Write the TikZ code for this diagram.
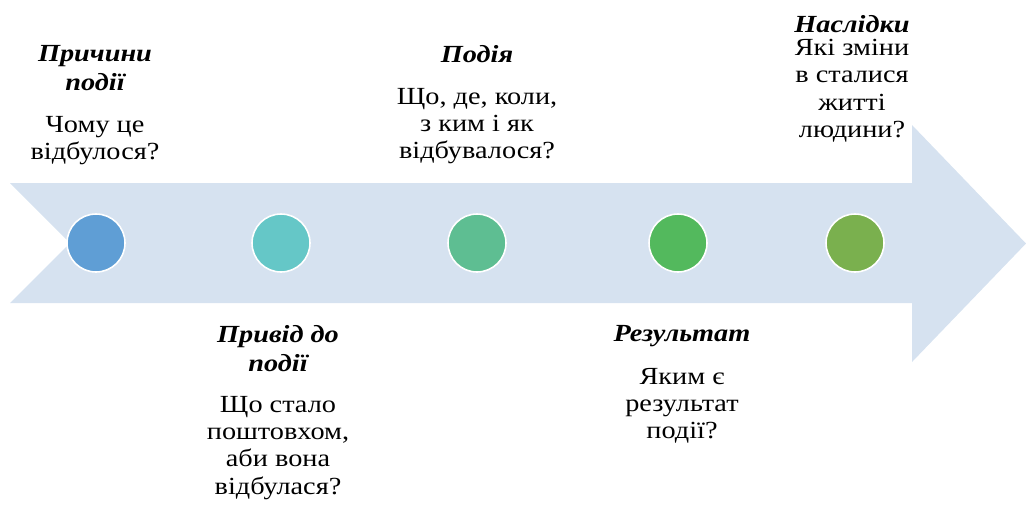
\documentclass[tikz,border=0pt]{standalone}
\usepackage{fontspec}
\setmainfont[FakeStretch=1.15]{Liberation Serif}
\usepackage{xcolor}
\usetikzlibrary{positioning}

\definecolor{bandfill}{HTML}{D6E2F0}
\definecolor{dotA}{HTML}{5F9ED5}
\definecolor{dotB}{HTML}{65C7C7}
\definecolor{dotC}{HTML}{5EBE92}
\definecolor{dotD}{HTML}{53B95D}
\definecolor{dotE}{HTML}{7AB04E}

\begin{document}
\begin{tikzpicture}[x=0.02cm,y=-0.02cm,
  dot/.style={circle,draw=white,line width=0.9pt,minimum size=1.16cm,inner sep=0pt},
  ttl/.style={anchor=north,align=center,inner sep=0pt,font=\bfseries\itshape\fontsize{14}{16.5}\selectfont},
  txt/.style={anchor=north,align=center,inner sep=0pt,font=\fontsize{14}{15.5}\selectfont}]
\useasboundingbox (0,0) rectangle (1026,504);

% timeline band
\fill[bandfill] (10,183) -- (912,183) -- (912,125) -- (1026,243.5) -- (912,362)
  -- (912,303) -- (10,303) -- (70,243) -- cycle;

\node[dot,fill=dotA] (d1) at (96,243) {};
\node[dot,fill=dotB] (d2) at (281,243) {};
\node[dot,fill=dotC] (d3) at (477,243) {};
\node[dot,fill=dotD] (d4) at (678,243) {};
\node[dot,fill=dotE] (d5) at (855,243) {};

% texts above
\node[ttl] (cause) at (95,45) {Причини\\події};
\node[txt] (causeq) at (95,116) {Чому це\\відбулося?};
\node[ttl] (event) at (477,45) {Подія};
\node[txt] (eventq) at (477,88) {Що, де, коли,\\з ким і як\\відбувалося?};
\node[ttl] (effect) at (852,15) {Наслідки};
\node[txt] (effectq) at (852,39) {Які зміни\\в сталися\\житті\\людини?};

% texts below
\node[ttl] (reason) at (278,325) {Привід до\\події};
\node[txt] (reasonq) at (278,396) {Що стало\\поштовхом,\\аби вона\\відбулася?};
\node[ttl] (result) at (682,325) {Результат};
\node[txt] (resultq) at (682,368) {Яким є\\результат\\події?};
\end{tikzpicture}
\end{document}
